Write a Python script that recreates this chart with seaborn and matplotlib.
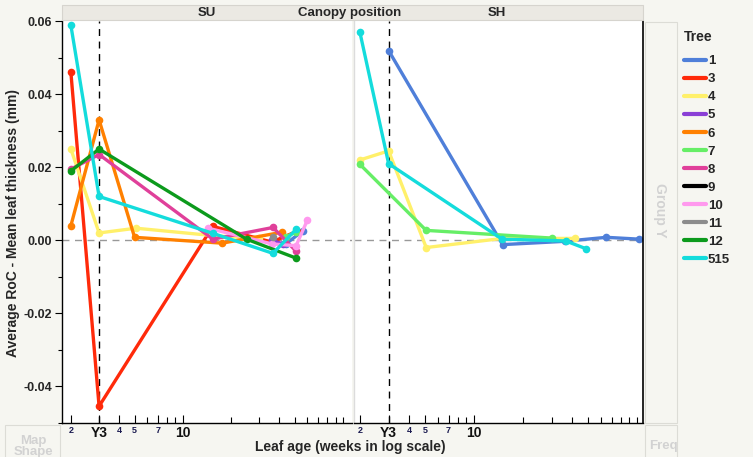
import numpy as np
import pandas as pd
import seaborn as sns
import matplotlib
matplotlib.use("Agg")
import matplotlib.pyplot as plt
from matplotlib.patches import Rectangle
from matplotlib.lines import Line2D
from matplotlib.ticker import FixedLocator, NullFormatter

# ---------------- data ----------------
tree_order = ["1", "3", "4", "5", "6", "7", "8", "9", "10", "11", "12", "515"]
tree_colors = ["#4f7fd9", "#ff2a0a", "#fff06a", "#8a3fd6", "#ff8000", "#66ee66",
               "#e0409a", "#000000", "#ff99ee", "#8c8c8c", "#0c9a1c", "#14dcdc"]

# SU canopy position
su_tree = ["1", "1",
           "3", "3", "3", "3", "3",
           "4", "4", "4", "4", "4",
           "5", "5",
           "6", "6", "6", "6", "6",
           "7", "7",
           "8", "8", "8", "8", "8",
           "10", "10", "10", "10",
           "11",
           "12", "12", "12", "12",
           "515", "515", "515", "515", "515"]
su_age = [44, 56,
          2, 3, 15.4, 36, 52,
          2, 3, 5.1, 16, 30,
          36, 42,
          2, 3, 5.0, 17.6, 41.7,
          44, 51,
          2, 3, 15.4, 36.6, 51,
          14.4, 36, 51, 60,
          36.6,
          2, 3, 25, 51,
          2, 3, 15.4, 36.6, 51]
su_roc = [-0.001, 0.0025,
          0.046, -0.0455, 0.0038, -0.0005, 0.0025,
          0.025, 0.002, 0.0033, 0.0012, 0.0005,
          0.0, -0.001,
          0.004, 0.033, 0.0008, -0.0008, 0.0022,
          0.001, 0.0022,
          0.0195, 0.0235, 0.0003, 0.0035, -0.003,
          0.0033, -0.001, -0.0015, 0.0055,
          0.0008,
          0.019, 0.025, 0.0003, -0.0049,
          0.0589, 0.012, 0.0019, -0.0036, 0.003]

# SH canopy position
sh_tree = ["1", "1", "1", "1", "1",
           "4", "4", "4", "4", "4",
           "7", "7", "7",
           "515", "515", "515", "515", "515"]
sh_age = [3, 15, 36, 65, 103,
          2, 3, 5.1, 15, 42,
          2, 5.1, 30,
          2, 3, 14.9, 36.6, 48.6]
sh_roc = [0.052, -0.0012, -0.0003, 0.0008, 0.0003,
          0.022, 0.0245, -0.002, 0.0005, 0.0005,
          0.0208, 0.0027, 0.0006,
          0.057, 0.021, 0.0003, -0.0002, -0.0023]

ytick_vals = [-0.04, -0.02, 0.00, 0.02, 0.04, 0.06]
xtick_vals = [2, 3, 4, 5, 7, 10]
xtick_labels = ["2", "Y3", "4", "5", "7", "10"]
x_minor = [6, 8, 9, 20, 30, 40, 50, 60, 70, 80, 90, 100]

df_su = pd.DataFrame({"Tree": su_tree, "age": su_age, "roc": su_roc})
df_sh = pd.DataFrame({"Tree": sh_tree, "age": sh_age, "roc": sh_roc})
palette = dict(zip(tree_order, tree_colors))

# ---------------- figure ----------------
sns.set_theme(style="white")
plt.rcParams["font.family"] = ["Liberation Sans", "DejaVu Sans"]
plt.rcParams["font.weight"] = "bold"

W, H = 753, 457
BG = "#f6f6f1"
fig = plt.figure(figsize=(W / 100, H / 100), dpi=100, facecolor=BG)

def fx(px):
    return px / W

def fy(py):
    return 1 - py / H

top, bot = 21, 423
ax1 = fig.add_axes([fx(62), fy(bot), (352 - 62) / W, (bot - top) / H])
ax2 = fig.add_axes([fx(354), fy(bot), (643 - 354) / W, (bot - top) / H])

line_kw = dict(x="age", y="roc", hue="Tree", hue_order=tree_order, palette=palette,
               estimator=None, marker="o", markersize=5.5, markeredgewidth=0,
               linewidth=2.4, legend=False)

for ax, df, xl in [(ax1, df_su, (1.76, 114)), (ax2, df_sh, (1.84, 109))]:
    ax.set_facecolor("white")
    ax.set_xscale("log")
    ax.axhline(0, color="#999999", linestyle=(0, (5, 4)), linewidth=1, zorder=1)
    ax.axvline(3, color="black", linestyle=(0, (5, 4)), linewidth=1, zorder=1)
    sns.lineplot(data=df, ax=ax, **line_kw)
    ax.set_xlim(*xl)
    ax.set_ylim(-0.0501, 0.0601)
    ax.set_xlabel("")
    ax.set_ylabel("")
    ax.xaxis.set_major_locator(FixedLocator(xtick_vals))
    ax.set_xticklabels(xtick_labels)
    ax.xaxis.set_minor_locator(FixedLocator(x_minor))
    ax.xaxis.set_minor_formatter(NullFormatter())
    ax.tick_params(axis="x", which="major", direction="in", length=6, width=0.8,
                   color="black", pad=2, bottom=True)
    ax.tick_params(axis="x", which="minor", direction="in", length=4, width=0.8,
                   color="black", bottom=True)
    for lab, txt in zip(ax.get_xticklabels(), xtick_labels):
        if txt in ("Y3", "10"):
            lab.set_fontsize(10)
            lab.set_color("#111111")
        else:
            lab.set_fontsize(6.5)
            lab.set_color("#1a1a50")
        lab.set_fontweight("bold")
    ax.spines["top"].set_visible(False)
    ax.spines["bottom"].set_color("black")
    ax.spines["bottom"].set_linewidth(1)
    ax.grid(False)

# SU axes y ticks
ax1.set_yticks(ytick_vals)
ax1.set_yticklabels([f"{v:.2f}" for v in ytick_vals])
ax1.yaxis.set_minor_locator(FixedLocator([-0.05, -0.03, -0.01, 0.01, 0.03, 0.05]))
ax1.tick_params(axis="y", which="major", direction="out", length=5, width=0.8,
                color="black", labelsize=9, left=True, pad=2)
ax1.tick_params(axis="y", which="minor", direction="out", length=3, width=0.8,
                color="black", left=True)
for lab in ax1.get_yticklabels():
    lab.set_fontweight("bold")
ax1.spines["left"].set_color("black")
ax1.spines["left"].set_linewidth(1)
ax1.spines["right"].set_visible(False)

ax2.set_yticks([])
ax2.spines["left"].set_color("#dcdcdc")
ax2.spines["left"].set_linewidth(1)
ax2.spines["right"].set_color("black")
ax2.spines["right"].set_linewidth(1.2)

# header strip
fig.patches.append(Rectangle((fx(62), fy(20)), (643 - 62) / W, 15 / H,
                             transform=fig.transFigure, facecolor="#ebe9e3",
                             edgecolor="#d6d4ce", linewidth=0.8, zorder=0))
fig.text(fx(207), fy(13), "SU", ha="center", va="center", fontsize=9.5, fontweight="bold")
fig.text(fx(350), fy(13), "Canopy position", ha="center", va="center", fontsize=9.5,
         fontweight="bold")
fig.text(fx(497), fy(13), "SH", ha="center", va="center", fontsize=9.5, fontweight="bold")

# Group Y side panel
fig.patches.append(Rectangle((fx(645), fy(423)), (677 - 645) / W, (423 - 22) / H,
                             transform=fig.transFigure, facecolor=BG,
                             edgecolor="#dcdcd6", linewidth=0.8, zorder=0))
fig.text(fx(660), fy(210), "Group Y", rotation=270, ha="center", va="center",
         fontsize=10, fontweight="bold", color="#d2d2d2")

# bottom-left and bottom-right boxes
fig.patches.append(Rectangle((fx(5), fy(470)), (60 - 5) / W, 45 / H,
                             transform=fig.transFigure, facecolor=BG,
                             edgecolor="#dcdcd6", linewidth=0.8, zorder=0))
fig.text(fx(33), fy(441), "Map", ha="center", va="center", fontsize=9.5,
         fontweight="bold", color="#d2d2d2")
fig.text(fx(33), fy(452), "Shape", ha="center", va="center", fontsize=9.5,
         fontweight="bold", color="#d2d2d2")
fig.patches.append(Rectangle((fx(645), fy(470)), (677 - 645) / W, 45 / H,
                             transform=fig.transFigure, facecolor=BG,
                             edgecolor="#dcdcd6", linewidth=0.8, zorder=0))
fig.text(fx(663), fy(446), "Freq", ha="center", va="center", fontsize=9.5,
         fontweight="bold", color="#d2d2d2")

# axis labels
fig.text(fx(350), fy(447), "Leaf age (weeks in log scale)", ha="center", va="center",
         fontsize=10, fontweight="bold")
fig.text(fx(13), fy(223), "Average RoC - Mean leaf thickness (mm)", rotation=90,
         ha="center", va="center", fontsize=10, fontweight="bold")

# legend
handles = [Line2D([0], [0], color=c, linewidth=3) for c in tree_colors]
leg = fig.legend(handles, tree_order, title="Tree", loc="upper left",
                 bbox_to_anchor=(fx(684), fy(30)), frameon=False,
                 prop={"weight": "bold", "size": 9.5}, handlelength=1.7,
                 handletextpad=0.1, labelspacing=0.44, borderaxespad=0,
                 borderpad=0, alignment="left")
leg.get_title().set_fontweight("bold")
leg.get_title().set_fontsize(10)
leg._legend_box.sep = 8

fig.savefig("out.png", dpi=100, facecolor=BG)
